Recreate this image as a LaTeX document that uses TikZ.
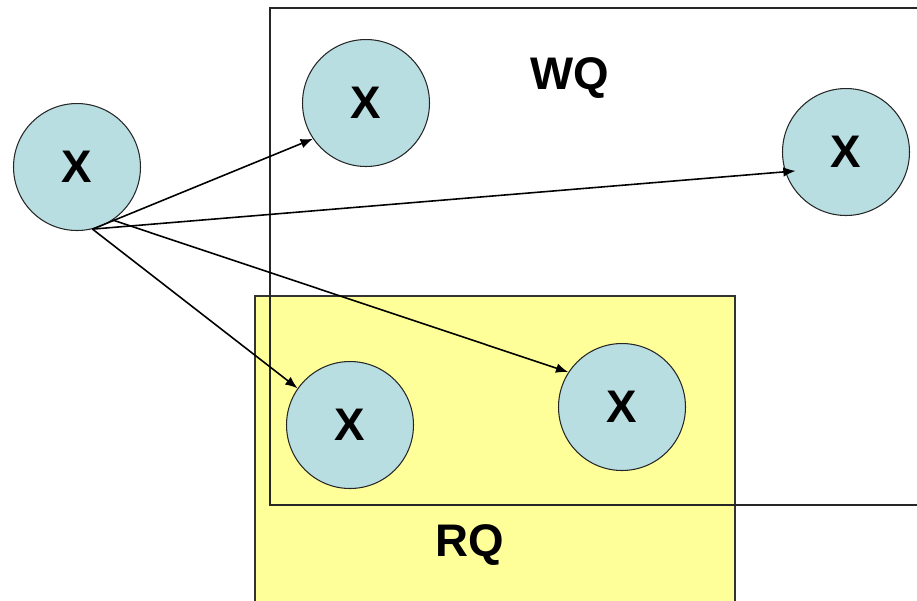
\documentclass[tikz,border=0pt]{standalone}
\usepackage{fontspec}
\setmainfont{Liberation Sans}
\usetikzlibrary{positioning,arrows.meta}
\definecolor{ballblue}{HTML}{B8DEE2}
\definecolor{rqyellow}{HTML}{FFFF99}
\tikzset{ball/.style={circle, draw=black!85, line width=0.6pt, fill=ballblue,
    minimum size=2.54cm, inner sep=0pt, font=\fontsize{26}{26}\selectfont\bfseries},
  qlabel/.style={font=\fontsize{26}{26}\selectfont\bfseries},
  send/.style={-{Latex[length=7pt,width=5.5pt]}, line width=0.9pt}}

\begin{document}
\begin{tikzpicture}[x=0.02cm, y=-0.02cm]
    \clip (0,0) rectangle (917,600);
    % read queue, filled
    \draw[fill=rqyellow, draw=black!80, line width=1pt] (255,296) rectangle (735,620);
    \node[qlabel] (rq) at (470,545) {RQ};
    % write queue, open on the right
    \draw[black!85, line width=1pt] (270,8) rectangle (940,505);
    \node[qlabel] (wq) at (570,78) {WQ};
    \node[ball] (src) at (77,167) {X};
    \node[ball] (w1) at (366,103) {X};
    \node[ball] (w2) at (846,152) {X};
    \node[ball] (r1) at (350,425) {X};
    \node[ball] (r2) at (622,407) {X};
    \draw[send] (src.-76) -- (w1.214);
    \draw[send, shorten >=-6pt] (src.-76) -- (w2.198);
    \draw[send] (src.-76) -- (r1.145);
    \draw[send] (src.-56) -- (r2.147);
\end{tikzpicture}
\end{document}
